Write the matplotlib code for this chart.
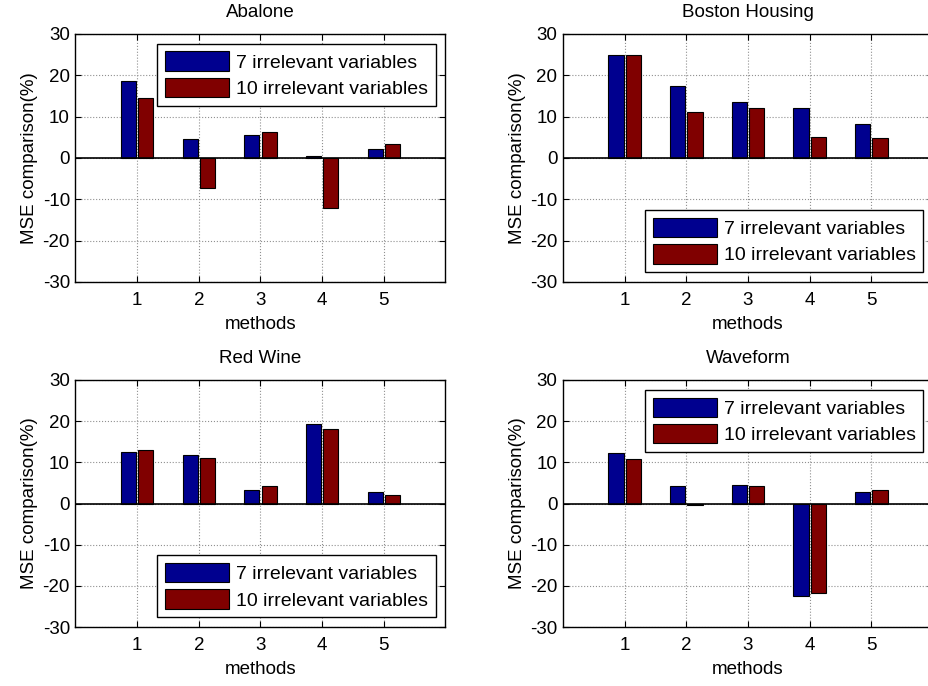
import numpy as np
import matplotlib
matplotlib.use("Agg")
import matplotlib.pyplot as plt

plt.rcParams['font.family'] = ['Liberation Sans', 'DejaVu Sans']
plt.rcParams['axes.unicode_minus'] = False

# datos
metodos = [1, 2, 3, 4, 5]
titulos = ["Abalone", "Boston Housing", "Red Wine", "Waveform"]
etiquetas = ["7 irrelevant variables", "10 irrelevant variables"]

abalone_7 = [18.7, 4.5, 5.6, 0.4, 2.2]
abalone_10 = [14.5, -7.3, 6.3, -12.1, 3.4]
boston_7 = [24.8, 17.3, 13.5, 12.0, 8.2]
boston_10 = [24.8, 11.2, 12.0, 5.2, 4.9]
redwine_7 = [12.6, 11.9, 3.2, 19.4, 2.8]
redwine_10 = [13.0, 11.1, 4.3, 18.2, 2.0]
waveform_7 = [12.2, 4.3, 4.6, -22.5, 2.8]
waveform_10 = [10.7, -0.4, 4.3, -21.7, 3.2]

series = [(abalone_7, abalone_10), (boston_7, boston_10),
          (redwine_7, redwine_10), (waveform_7, waveform_10)]
legend_loc = ['upper right', 'lower right', 'lower right', 'upper right']

azul = '#00008F'
rojo = '#800000'
fs = 13.5

fig = plt.figure(figsize=(9.29, 6.86), dpi=100)
W, H = 929.0, 686.0
# posiciones de los ejes en pixeles (izq, arriba, der, abajo)
cajas = [(75.5, 34, 445.5, 282), (563, 34, 933, 282),
         (75.5, 380, 445.5, 627), (563, 380, 933, 627)]

x = np.array(metodos)
for k in range(4):
    l, t, r, b = cajas[k]
    ax = fig.add_axes([l / W, (H - b) / H, (r - l) / W, (b - t) / H])
    v7, v10 = series[k]
    ax.bar(x - 0.14, v7, width=0.245, color=azul, edgecolor='black', linewidth=0.8,
           label=etiquetas[0], zorder=3)
    ax.bar(x + 0.14, v10, width=0.245, color=rojo, edgecolor='black', linewidth=0.8,
           label=etiquetas[1], zorder=3)
    ax.axhline(0, color='black', linewidth=1.2, zorder=4)
    ax.set_xlim(0, 6)
    ax.set_ylim(-30, 30)
    ax.set_xticks(metodos)
    ax.set_yticks([-30, -20, -10, 0, 10, 20, 30])
    ax.grid(True, color='#909090', linestyle=':', linewidth=0.8, zorder=0)
    ax.tick_params(direction='in', top=True, right=True, length=4, width=0.8,
                   labelsize=fs, colors='black')
    ax.tick_params(axis='x', pad=7)
    ax.tick_params(axis='y', pad=4)
    for s in ax.spines.values():
        s.set_linewidth(1.0)
        s.set_color('black')
    ax.set_title(titulos[k], fontsize=fs, pad=12)
    ax.set_xlabel("methods", fontsize=fs, labelpad=5)
    ax.set_ylabel("MSE comparison(%)", fontsize=fs, labelpad=3)
    leg = ax.legend(loc=legend_loc[k], fontsize=14, handlelength=3.3, handleheight=1.15,
                    handletextpad=0.35, borderpad=0.4, labelspacing=0.3,
                    borderaxespad=0.5, fancybox=False, framealpha=1)
    leg.get_frame().set_edgecolor('black')
    leg.get_frame().set_linewidth(1.0)
    leg.set_zorder(5)

fig.savefig("out.png", dpi=100)
